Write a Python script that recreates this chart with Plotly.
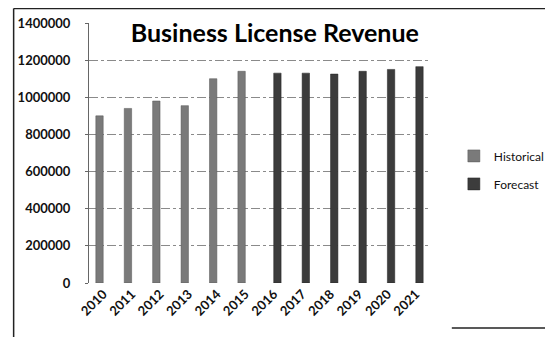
import plotly.graph_objects as go

YEARS = ['2010', '2011', '2012', '2013', '2014', '2015',
         '2016', '2017', '2018', '2019', '2020', '2021']
HISTORICAL = [900000, 940000, 980000, 955000, 1100000, 1140000,
              None, None, None, None, None, None]
FORECAST = [None, None, None, None, None, None,
            1130000, 1130000, 1125000, 1140000, 1150000, 1165000]
Y_TICKS = [0, 200000, 400000, 600000, 800000, 1000000, 1200000, 1400000]

FONT = 'Lato'
COLORS = {
    'historical': '#7a7a7a',
    'forecast': '#3c3c3c',
    'grid': '#8a8a8a',
    'text': '#111111',
    'border': '#222222',
}

fig = go.Figure()
fig.add_trace(go.Bar(
    x=YEARS, y=HISTORICAL, name='Historical',
    marker=dict(color=COLORS['historical'], line=dict(color='#555555', width=0.5)),
    legendgroup='h'
))
fig.add_trace(go.Bar(
    x=YEARS, y=FORECAST, name='Forecast',
    marker=dict(color=COLORS['forecast'], line=dict(color='#222222', width=0.5)),
    legendgroup='f'
))

border = dict(color=COLORS['border'], width=1.5)

# page body adds an 8px offset, so margins are shifted to compensate
fig.update_layout(
    width=553,
    height=337,
    margin=dict(l=81, r=114, t=15, b=62),
    paper_bgcolor='white',
    plot_bgcolor='white',
    barmode='group',
    bargap=0.48,
    bargroupgap=0,
    font=dict(family=FONT, size=12, color=COLORS['text']),
    title=dict(
        text='Business License Revenue',
        x=0.545, xref='paper', xanchor='center',
        y=0.925, yref='container', yanchor='middle',
        font=dict(family=FONT, size=25, color='black', weight='bold')
    ),
    legend=dict(
        x=1.07, xanchor='left',
        y=0.435, yanchor='middle',
        traceorder='grouped',
        tracegroupgap=9,
        itemwidth=30,
        font=dict(family=FONT, size=12, color=COLORS['text']),
        bgcolor='rgba(0,0,0,0)'
    ),
    shapes=[
        # scanned chart frame: top, left, and a bit of the bottom right
        dict(type='line', xref='paper', yref='paper',
             x0=-0.221, x1=1.35, y0=1.056, y1=1.056, line=border),
        dict(type='line', xref='paper', yref='paper',
             x0=-0.221, x1=-0.221, y0=1.056, y1=-0.3, line=border),
        dict(type='line', xref='paper', yref='paper',
             x0=1.064, x1=1.35, y0=-0.173, y1=-0.173, line=border),
    ]
)
fig.update_yaxes(
    range=[0, 1400000],
    tickvals=Y_TICKS,
    tickformat='d',
    automargin=False,
    showgrid=True,
    gridcolor=COLORS['grid'],
    griddash='dashdot',
    gridwidth=1,
    showline=True,
    linecolor='#666666',
    linewidth=1,
    ticks='outside',
    ticklen=3,
    tickcolor='#666666',
    ticklabelstandoff=12,
    tickfont=dict(family=FONT, size=13, color=COLORS['text'], weight='bold'),
    zeroline=False
)
fig.update_xaxes(
    type='category',
    tickangle=-45,
    automargin=False,
    showline=False,
    ticks='',
    tickfont=dict(family=FONT, size=13, color=COLORS['text'], weight='bold')
)

fig.write_html("out.html")
